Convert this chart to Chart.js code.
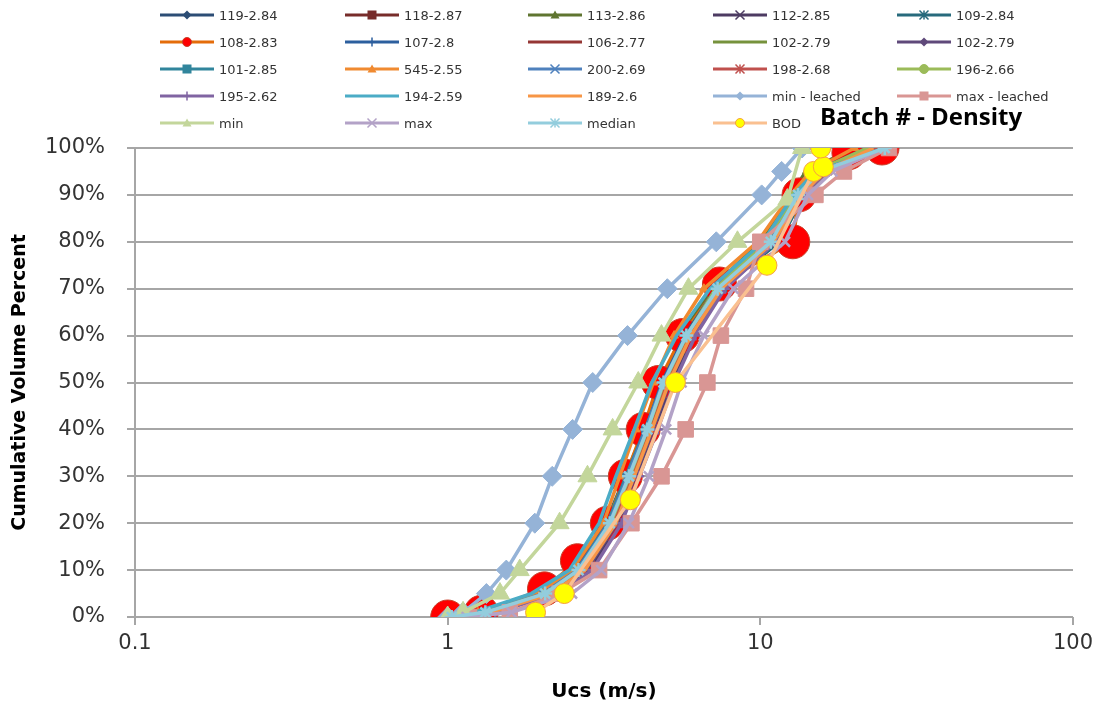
<!DOCTYPE html>
<html>
<head>
<meta charset="utf-8">
<script src="https://cdn.jsdelivr.net/npm/chart.js@4.4.0/dist/chart.umd.min.js"></script>
<style>
  body { margin: 0; background: #fff; }
  #wrap { position: relative; width: 1100px; height: 712px; }
  #legend { position: absolute; left: 0; top: 0; width: 1100px; height: 135px;
            font-family: "DejaVu Sans"; font-size: 13px; color: #333; }
  .item { position: absolute; height: 20px; display: flex; align-items: center; white-space: nowrap; }
  .item span { margin-left: 5px; }
  #title { position: absolute; left: 820px; top: 99px; font: bold 24px "Open Sans"; color: #000; }
</style>
</head>
<body>
<div id="wrap">
  <canvas id="chart" width="1100" height="712"></canvas>
  <div id="legend"></div>
  <div id="title">Batch # - Density</div>
</div>
<script>
// cumulative volume percent levels
const pctStd = [0, 1, 5, 10, 20, 30, 40, 50, 60, 70, 80, 90, 95, 100];
const pct108 = [0, 1, 6, 12, 20, 30, 40, 50, 60, 71, 80, 90, 99, 100];
const pctMin = [0, 1, 5, 10, 20, 30, 40, 50, 60, 70, 80, 89, 100];
const pctBod = [1, 5, 25, 50, 75, 95, 96, 100];

// Ucs (m/s)
const ucs119 = [1.02, 1.30, 2.05, 2.60, 3.30, 3.80, 4.35, 4.90, 5.70, 7.0, 10.3, 12.8, 14.5, 22];
const ucs118 = [1.05, 1.35, 2.10, 2.70, 3.40, 3.90, 4.45, 5.00, 5.90, 7.3, 10.8, 13.2, 15.5, 23];
const ucs113 = [1.00, 1.28, 2.00, 2.55, 3.25, 3.75, 4.30, 4.80, 5.60, 7.0, 10.0, 12.5, 14.0, 20];
const ucs112 = [1.08, 1.40, 2.20, 2.85, 3.55, 4.05, 4.60, 5.20, 6.10, 7.6, 11.0, 13.5, 16.0, 24];
const ucs109 = [1.00, 1.30, 2.00, 2.55, 3.20, 3.70, 4.25, 4.85, 5.80, 7.5, 11.5, 13.8, 16.5, 25];
const ucs108 = [1.00, 1.28, 2.04, 2.60, 3.24, 3.70, 4.22, 4.72, 5.63, 7.4, 12.7, 13.3, 19.2, 24.5];
const ucs107 = [1.02, 1.32, 2.05, 2.62, 3.30, 3.78, 4.30, 4.85, 5.75, 7.2, 10.5, 13.0, 15.0, 22];
const ucs106 = [1.05, 1.36, 2.12, 2.72, 3.42, 3.92, 4.50, 5.05, 5.95, 7.4, 10.9, 13.4, 15.8, 24];
const ucs102a = [1.03, 1.33, 2.08, 2.65, 3.35, 3.85, 4.38, 4.95, 5.85, 7.3, 10.6, 13.1, 15.2, 23];
const ucs102b = [1.06, 1.38, 2.15, 2.78, 3.48, 3.98, 4.55, 5.12, 6.00, 7.5, 11.0, 13.6, 16.0, 25];
const ucs101 = [1.00, 1.30, 2.02, 2.58, 3.25, 3.72, 4.28, 4.90, 5.85, 7.6, 11.2, 13.5, 16.0, 25];
const ucs545 = [1.00, 1.25, 1.95, 2.50, 3.15, 3.55, 4.00, 4.55, 5.30, 6.6, 9.8, 12.5, 14.5, 20];
const ucs200 = [1.02, 1.30, 2.02, 2.60, 3.28, 3.76, 4.30, 4.88, 5.80, 7.3, 10.6, 13.0, 15.5, 23];
const ucs198 = [1.05, 1.35, 2.10, 2.70, 3.40, 3.90, 4.48, 5.05, 5.95, 7.4, 11.2, 13.5, 16.5, 24];
const ucs196 = [1.03, 1.32, 2.05, 2.63, 3.32, 3.82, 4.36, 4.92, 5.82, 7.2, 10.4, 12.9, 15.0, 22];
const ucs195 = [1.08, 1.42, 2.25, 2.90, 3.60, 4.10, 4.70, 5.30, 6.20, 7.7, 11.2, 13.7, 16.2, 25];
const ucs194 = [1.00, 1.22, 1.85, 2.45, 3.05, 3.45, 3.95, 4.50, 5.40, 6.9, 10.2, 12.8, 15.0, 25];
const ucs189 = [1.05, 1.38, 2.15, 2.75, 3.45, 3.95, 4.50, 5.10, 6.00, 7.5, 11.0, 13.6, 16.0, 23];
const ucsMinLeached = [1.00, 1.12, 1.33, 1.54, 1.90, 2.16, 2.51, 2.91, 3.76, 5.04, 7.23, 10.1, 11.7, 13.6];
const ucsMaxLeached = [1.17, 1.58, 2.28, 3.05, 3.87, 4.83, 5.77, 6.77, 7.48, 9.0, 10.0, 15.0, 18.5, 25.8];
const ucsMin = [1.00, 1.12, 1.47, 1.70, 2.28, 2.80, 3.37, 4.07, 4.83, 5.89, 8.45, 12.2, 13.6];
const ucsMax = [1.15, 1.60, 2.50, 3.10, 3.80, 4.40, 5.00, 5.60, 6.60, 8.2, 12.0, 14.2, 17.0, 25];
const ucsMedian = [1.03, 1.32, 2.05, 2.62, 3.30, 3.80, 4.35, 4.90, 5.80, 7.3, 10.8, 13.2, 15.5, 25];
const ucsBod = [1.91, 2.36, 3.84, 5.35, 10.5, 14.8, 15.9, 15.6];

const seriesLabels = ['119-2.84', '118-2.87', '113-2.86', '112-2.85', '109-2.84',
  '108-2.83', '107-2.8', '106-2.77', '102-2.79', '102-2.79',
  '101-2.85', '545-2.55', '200-2.69', '198-2.68', '196-2.66',
  '195-2.62', '194-2.59', '189-2.6', 'min - leached', 'max - leached',
  'min', 'max', 'median', 'BOD'];
const seriesX = [ucs119, ucs118, ucs113, ucs112, ucs109, ucs108, ucs107, ucs106, ucs102a, ucs102b,
  ucs101, ucs545, ucs200, ucs198, ucs196, ucs195, ucs194, ucs189, ucsMinLeached, ucsMaxLeached,
  ucsMin, ucsMax, ucsMedian, ucsBod];
const seriesY = [pctStd, pctStd, pctStd, pctStd, pctStd, pct108, pctStd, pctStd, pctStd, pctStd,
  pctStd, pctStd, pctStd, pctStd, pctStd, pctStd, pctStd, pctStd, pctStd, pctStd,
  pctMin, pctStd, pctStd, pctBod];

const xTicks = [0.1, 1, 10, 100];
const xTickLabels = ['0.1', '1', '10', '100'];

// look of each series (legend order)
const looks = [
  { line: '#2C4D75', mk: 'rectRot', r: 4 },
  { line: '#772C2A', mk: 'rect', r: 4 },
  { line: '#5F7530', mk: 'triangle', r: 4 },
  { line: '#4D3B62', mk: 'crossRot', r: 5 },
  { line: '#276A7C', mk: 'star', r: 5 },
  { line: '#E46C0A', mk: 'circle', r: 17, fill: '#FF0000', edge: '#C8402A' },
  { line: '#2C5F9E', mk: 'cross', r: 5 },
  { line: '#953735', mk: 'none' },
  { line: '#76923C', mk: 'none' },
  { line: '#5F497A', mk: 'rectRot', r: 4 },
  { line: '#31859C', mk: 'rect', r: 5 },
  { line: '#F08A30', mk: 'triangle', r: 5 },
  { line: '#4F81BD', mk: 'crossRot', r: 5 },
  { line: '#C0504D', mk: 'star', r: 5 },
  { line: '#9BBB59', mk: 'circle', r: 4 },
  { line: '#8064A2', mk: 'cross', r: 5 },
  { line: '#4BACC6', mk: 'none' },
  { line: '#F79646', mk: 'none' },
  { line: '#95B3D7', mk: 'rectRot', r: 10 },
  { line: '#D99694', mk: 'rect', r: 11 },
  { line: '#C3D69B', mk: 'triangle', r: 11 },
  { line: '#B3A2C7', mk: 'crossRot', r: 7 },
  { line: '#93CDDD', mk: 'star', r: 7 },
  { line: '#FAC090', mk: 'circle', r: 10, fill: '#FFFF00', edge: '#F5A040' }
];

const datasets = seriesLabels.map(function (label, i) {
  const lk = looks[i];
  const strokeMk = lk.mk === 'cross' || lk.mk === 'crossRot' || lk.mk === 'star';
  return {
    label: label,
    data: seriesX[i].map((x, j) => ({ x: x, y: seriesY[i][j] })),
    showLine: true,
    borderColor: lk.line,
    borderWidth: 3.5,
    tension: 0,
    pointStyle: lk.mk === 'none' ? false : lk.mk,
    pointRadius: lk.mk === 'none' ? 0 : lk.r,
    pointBackgroundColor: lk.fill || lk.line,
    pointBorderColor: lk.edge || lk.line,
    pointBorderWidth: strokeMk ? 2.5 : 1,
    order: seriesLabels.length - i
  };
});

new Chart(document.getElementById('chart'), {
  type: 'scatter',
  data: { datasets: datasets },
  options: {
    responsive: false,
    animation: false,
    layout: { padding: { top: 148, right: 27, left: 0, bottom: 0 } },
    plugins: { legend: { display: false }, tooltip: { enabled: false } },
    scales: {
      x: {
        type: 'logarithmic',
        min: 0.1, max: 100,
        afterBuildTicks: function (s) { s.ticks = xTicks.map(v => ({ value: v })); },
        afterFit: function (s) { s.height = 95; },
        ticks: {
          autoSkip: false, maxRotation: 0, padding: 6, color: '#333',
          font: { family: 'DejaVu Sans', size: 21 },
          callback: function (v) { return xTickLabels[xTicks.indexOf(v)] || ''; }
        },
        grid: { drawOnChartArea: false, drawTicks: true, tickLength: 8, color: '#A6A6A6', lineWidth: 2 },
        border: { display: false },
        title: { display: true, text: 'Ucs (m/s)', color: '#000',
                 font: { family: 'DejaVu Sans', size: 20, weight: 'bold' }, padding: { top: 0, bottom: 8 } }
      },
      y: {
        min: 0, max: 100,
        afterFit: function (s) { s.width = 135; },
        ticks: {
          stepSize: 10, padding: 22, color: '#333',
          font: { family: 'DejaVu Sans', size: 21 },
          callback: function (v) { return v + '%'; }
        },
        grid: { color: '#A6A6A6', lineWidth: 2, tickLength: 8 },
        border: { display: true, color: '#A6A6A6', width: 2 },
        title: { display: true, text: 'Cumulative Volume Percent', color: '#000',
                 font: { family: 'DejaVu Sans', size: 19, weight: 'bold' }, padding: { top: 9, bottom: 0 } }
      }
    }
  }
});

// legend: 5 columns x 5 rows, filled row by row
const legCols = [160, 345, 528, 713, 897];
const legRows = [15, 42, 69, 96, 123];

function markerSvg(lk, cx, cy) {
  const r = 4.5;
  const fill = lk.fill || lk.line, edge = lk.edge || lk.line;
  switch (lk.mk) {
    case 'circle': return `<circle cx="${cx}" cy="${cy}" r="${r}" fill="${fill}" stroke="${edge}"/>`;
    case 'rect': return `<rect x="${cx - r}" y="${cy - r}" width="${2 * r}" height="${2 * r}" fill="${fill}"/>`;
    case 'rectRot': return `<polygon points="${cx},${cy - r} ${cx + r},${cy} ${cx},${cy + r} ${cx - r},${cy}" fill="${fill}"/>`;
    case 'triangle': return `<polygon points="${cx},${cy - r} ${cx + r},${cy + r * 0.8} ${cx - r},${cy + r * 0.8}" fill="${fill}"/>`;
    case 'cross': return `<path d="M${cx} ${cy - r}V${cy + r}M${cx - r} ${cy}H${cx + r}" stroke="${edge}" stroke-width="1.5"/>`;
    case 'crossRot': return `<path d="M${cx - r} ${cy - r}L${cx + r} ${cy + r}M${cx + r} ${cy - r}L${cx - r} ${cy + r}" stroke="${edge}" stroke-width="1.5"/>`;
    case 'star': return `<path d="M${cx} ${cy - r}V${cy + r}M${cx - r} ${cy - r}L${cx + r} ${cy + r}M${cx + r} ${cy - r}L${cx - r} ${cy + r}" stroke="${edge}" stroke-width="1.5"/>`;
    default: return '';
  }
}

let cartona = '';
for (let i = 0; i < seriesLabels.length; i++) {
  const lk = looks[i];
  const col = i % 5, row = Math.floor(i / 5);
  cartona += `
    <div class="item" style="left:${legCols[col]}px; top:${legRows[row] - 10}px">
      <svg width="54" height="14"><line x1="0" y1="7" x2="54" y2="7" stroke="${lk.line}" stroke-width="3"/>${markerSvg(lk, 27, 7)}</svg>
      <span>${seriesLabels[i]}</span>
    </div>`;
}
document.getElementById('legend').innerHTML = cartona;
</script>
</body>
</html>
